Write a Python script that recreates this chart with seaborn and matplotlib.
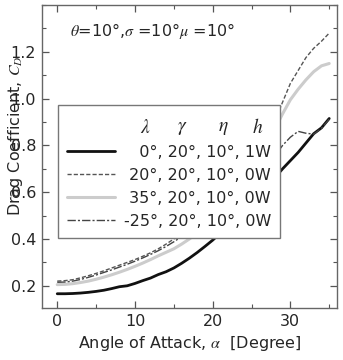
import numpy as np
import pandas as pd
import matplotlib
matplotlib.use("Agg")
import matplotlib.pyplot as plt
import seaborn as sns
from matplotlib.ticker import MultipleLocator, FormatStrFormatter
from matplotlib.lines import Line2D

# ---- data ----
alpha = list(range(0, 36))
cd_0_1w = [0.166, 0.166, 0.167, 0.169, 0.172, 0.176, 0.181, 0.188, 0.196, 0.200,
           0.210, 0.222, 0.233, 0.248, 0.260, 0.276, 0.296, 0.318, 0.342, 0.368,
           0.395, 0.425, 0.456, 0.488, 0.520, 0.554, 0.588, 0.624, 0.662, 0.700,
           0.735, 0.770, 0.810, 0.850, 0.875, 0.915]
cd_20_0w = [0.220, 0.222, 0.226, 0.234, 0.243, 0.253, 0.264, 0.276, 0.288, 0.300,
            0.312, 0.326, 0.341, 0.358, 0.378, 0.400, 0.424, 0.450, 0.478, 0.508,
            0.540, 0.574, 0.610, 0.648, 0.690, 0.735, 0.785, 0.840, 0.905, 0.985,
            1.065, 1.120, 1.175, 1.215, 1.245, 1.280]
cd_35_0w = [0.205, 0.206, 0.209, 0.214, 0.220, 0.228, 0.237, 0.247, 0.258, 0.270,
            0.283, 0.297, 0.312, 0.328, 0.343, 0.358, 0.378, 0.400, 0.425, 0.452,
            0.480, 0.510, 0.542, 0.576, 0.612, 0.652, 0.695, 0.800, 0.870, 0.935,
            0.995, 1.040, 1.080, 1.115, 1.140, 1.150]
cd_m25_0w = [0.215, 0.216, 0.220, 0.227, 0.236, 0.246, 0.257, 0.268, 0.280, 0.292,
             0.305, 0.319, 0.334, 0.350, 0.368, 0.388, 0.410, 0.433, 0.457, 0.482,
             0.508, 0.535, 0.563, 0.592, 0.622, 0.653, 0.685, 0.718, 0.755, 0.800,
             0.835, 0.860, 0.852, 0.848, 0.873, 0.912]
labels = ["   0°, 20°, 10°, 1W", " 20°, 20°, 10°, 0W", " 35°, 20°, 10°, 0W", "-25°, 20°, 10°, 0W"]
header = [r"$\lambda$", r"$\gamma$", r"$\eta$", r"$h$"]
xticks = [0, 10, 20, 30]
yticks = [0.2, 0.4, 0.6, 0.8, 1.0, 1.2]

sns.set_style("ticks")
plt.rcParams["font.family"] = ["DejaVu Sans"]
plt.rcParams["mathtext.fontset"] = "stix"
FS = 11.5

fig = plt.figure(figsize=(3.43, 3.6), dpi=100)
ax = fig.add_axes([0.1216, 0.1444, 0.8609, 0.8417])

styles = [
    dict(color="#111111", lw=2.0, ls="-"),
    dict(color="#555555", lw=1.0, ls=(0, (3, 1.5))),
    dict(color="#cccccc", lw=2.2, ls="-"),
    dict(color="#444444", lw=1.0, ls=(0, (6, 1.5, 1.5, 1.5))),
]
series = [cd_0_1w, cd_20_0w, cd_35_0w, cd_m25_0w]
for y, st in zip(series, styles):
    df = pd.DataFrame({"alpha": alpha, "cd": y})
    sns.lineplot(data=df, x="alpha", y="cd", ax=ax, color=st["color"],
                 lw=st["lw"], linestyle=st["ls"], legend=False)

ax.set_xlim(-2, 36)
ax.set_ylim(0.105, 1.40)
ax.xaxis.set_minor_locator(MultipleLocator(5))
ax.yaxis.set_minor_locator(MultipleLocator(0.1))
ax.set_xticks(xticks)
ax.set_yticks(yticks)
ax.yaxis.set_major_formatter(FormatStrFormatter("%.1f"))
ax.tick_params(which="both", direction="in", top=True, right=True, color="#555555",
               labelsize=FS, pad=4)
ax.tick_params(which="major", length=5, width=0.9)
ax.tick_params(which="minor", length=3, width=0.8)
for s in ax.spines.values():
    s.set_color("#666666")
    s.set_linewidth(1.0)

ax.set_xlabel(r"Angle of Attack, $\alpha$  [Degree]", fontsize=FS, labelpad=4)
ax.set_ylabel(r"Drag Coefficient, $C_D$", fontsize=FS)
ax.yaxis.set_label_coords(-0.055, 0.57)

ax.text(0.095, 0.915, r"$\theta$=10°,$\sigma$ =10°$\mu$ =10°", transform=ax.transAxes,
        fontsize=FS, ha="left", va="center")

handles = [Line2D([], [], color=st["color"], lw=st["lw"], linestyle=st["ls"]) for st in styles]
leg = ax.legend(handles, labels, loc="upper left", bbox_to_anchor=(0.055, 0.67),
                fontsize=FS, title="Ag", title_fontsize=FS + 5, frameon=True, fancybox=False,
                framealpha=1, edgecolor="#777777", handlelength=3.0, handletextpad=0.6,
                labelspacing=0.5, borderpad=0.55, borderaxespad=0)
leg.get_title().set_color("none")
leg.get_frame().set_linewidth(1.0)

hx = [0.350, 0.475, 0.614, 0.733]
for h, x in zip(header, hx):
    ax.text(x, 0.597, h, transform=ax.transAxes, fontsize=FS + 2.5, ha="center",
            va="center", zorder=10)

fig.savefig("out.png", dpi=100)
